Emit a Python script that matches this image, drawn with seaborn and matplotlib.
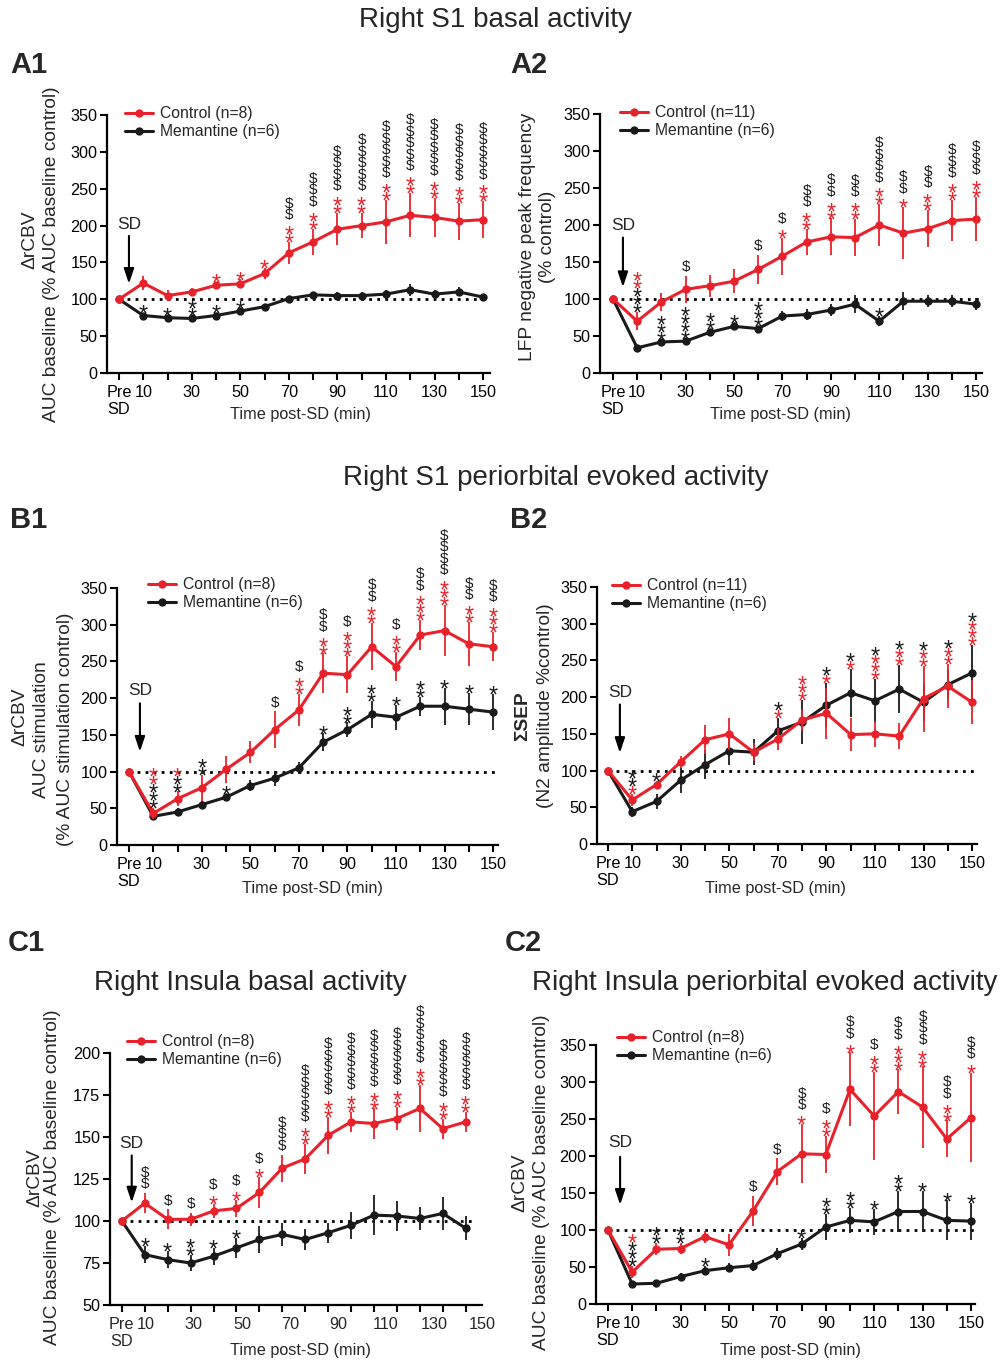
import numpy as np
import pandas as pd
import matplotlib
matplotlib.use("Agg")
import matplotlib.pyplot as plt
from matplotlib.lines import Line2D
import seaborn as sns

sns.set_style("ticks")
plt.rcParams["font.family"] = ["Liberation Sans", "DejaVu Sans"]

RED = "#e8212b"
BLACK = "#1a1a1a"
W, H = 1001, 1361

times = ["Pre", 10, 20, 30, 40, 50, 60, 70, 80, 90, 100, 110, 120, 130, 140, 150]
shown = [10, 30, 50, 70, 90, 110, 130, 150]

# A1 - right S1 basal CBV
a1_ctrl = [100, 122, 105, 110, 119, 121, 135, 163, 178, 195, 200, 205, 214, 211, 206, 208]
a1_ctrl_err = [0, 10, 8, 5, 5, 6, 7, 15, 18, 22, 17, 30, 30, 27, 25, 25]
a1_mem = [100, 78, 75, 74, 78, 84, 90, 101, 106, 105, 105, 107, 113, 107, 110, 103]
a1_mem_err = [0, 3, 3, 3, 3, 3, 3, 3, 4, 5, 5, 6, 8, 5, 6, 4]

# A2 - LFP negative peak frequency
a2_ctrl = [100, 70, 96, 113, 118, 124, 140, 158, 177, 184, 183, 200, 189, 195, 206, 208]
a2_ctrl_err = [0, 12, 12, 18, 15, 16, 20, 25, 18, 25, 25, 28, 35, 25, 28, 30]
a2_mem = [100, 34, 42, 43, 55, 63, 60, 77, 79, 85, 93, 70, 97, 97, 97, 93]
a2_mem_err = [0, 3, 3, 3, 5, 5, 4, 7, 8, 8, 12, 7, 12, 8, 8, 8]

# B1 - right S1 evoked CBV
b1_ctrl = [100, 43, 63, 78, 103, 126, 157, 184, 234, 232, 270, 243, 286, 292, 274, 270]
b1_ctrl_err = [0, 8, 10, 18, 18, 15, 25, 22, 27, 25, 32, 20, 20, 35, 30, 20]
b1_mem = [100, 39, 45, 55, 65, 81, 91, 105, 140, 157, 178, 174, 189, 189, 185, 181]
b1_mem_err = [0, 3, 5, 5, 5, 7, 10, 8, 12, 10, 18, 17, 13, 25, 22, 25]

# B2 - SEP
b2_ctrl = [100, 60, 81, 112, 142, 150, 125, 143, 169, 178, 149, 150, 147, 198, 215, 193]
b2_ctrl_err = [0, 8, 5, 8, 20, 22, 12, 15, 15, 35, 22, 18, 18, 45, 30, 30]
b2_mem = [100, 44, 58, 87, 108, 127, 125, 154, 166, 189, 206, 195, 211, 193, 217, 233]
b2_mem_err = [0, 7, 10, 17, 20, 20, 18, 18, 30, 30, 33, 30, 33, 25, 20, 38]

# C1 - insula basal CBV
c1_ctrl = [100, 110.6, 101, 101, 106, 107.5, 117, 131.5, 137, 151, 159, 158, 161, 167, 155, 159]
c1_ctrl_err = [0, 6, 6, 4, 4, 5, 9, 8, 9, 11, 6, 9, 7, 14, 6, 6]
c1_mem = [100, 80, 77, 75, 79, 84, 89, 92, 89, 93, 97.5, 103.5, 103, 101.5, 104.5, 95.7]
c1_mem_err = [0, 5, 5, 5, 5, 6, 8, 7, 6, 6, 8, 12, 9, 7, 10, 7]

# C2 - insula evoked CBV
c2_ctrl = [100, 43, 74, 75, 91, 80, 126, 179, 203, 202, 290, 254, 287, 266, 223, 252]
c2_ctrl_err = [0, 8, 8, 8, 8, 15, 20, 18, 40, 25, 50, 60, 30, 55, 25, 60]
c2_mem = [100, 27, 28, 37, 45, 49, 52, 68, 81, 104, 113, 111, 125, 125, 113, 112]
c2_mem_err = [0, 3, 4, 5, 6, 6, 8, 8, 8, 18, 17, 18, 28, 28, 27, 25]

# significance marks: (minute, sits above 'c'/'m'/'top', [(symbols, group)])
a1_marks = [
    (10, "m", [("*", "mem")]), (20, "m", [("*", "mem")]), (30, "m", [("**", "mem")]),
    (40, "m", [("*", "mem")]), (50, "m", [("*", "mem")]),
    (40, "c", [("*", "ctrl")]), (50, "c", [("*", "ctrl")]), (60, "c", [("*", "ctrl")]),
    (70, "c", [("**", "ctrl"), ("$$", "diff")]), (80, "c", [("**", "ctrl"), ("$$$", "diff")]),
    (90, "c", [("**", "ctrl"), ("$$$$", "diff")]), (100, "c", [("**", "ctrl"), ("$$$$$", "diff")]),
    (110, "c", [("**", "ctrl"), ("$$$$$", "diff")]), (120, "c", [("**", "ctrl"), ("$$$$$", "diff")]),
    (130, "c", [("**", "ctrl"), ("$$$$$", "diff")]), (140, "c", [("**", "ctrl"), ("$$$$$", "diff")]),
    (150, "c", [("**", "ctrl"), ("$$$$$", "diff")]),
]
a2_marks = [
    (10, "c", [("***", "mem"), ("**", "ctrl")]), (20, "m", [("***", "mem")]),
    (30, "m", [("****", "mem")]), (30, "c", [("$", "diff")]), (40, "m", [("**", "mem")]),
    (50, "m", [("*", "mem")]), (60, "m", [("***", "mem")]), (60, "c", [("$", "diff")]),
    (70, "c", [("*", "ctrl"), ("$", "diff")]), (80, "c", [("**", "ctrl"), ("$$", "diff")]),
    (90, "c", [("**", "ctrl"), ("$$", "diff")]), (100, "c", [("**", "ctrl"), ("$$", "diff")]),
    (110, "c", [("**", "ctrl"), ("$$$$", "diff")]), (110, "m", [("*", "mem")]),
    (120, "c", [("*", "ctrl"), ("$$", "diff")]), (130, "c", [("**", "ctrl"), ("$$", "diff")]),
    (140, "c", [("**", "ctrl"), ("$$$", "diff")]), (150, "c", [("**", "ctrl"), ("$$$", "diff")]),
]
b1_marks = [
    (10, "c", [("***", "mem"), ("**", "ctrl")]), (20, "c", [("**", "mem"), ("*", "ctrl")]),
    (30, "c", [("**", "mem")]), (40, "m", [("*", "mem")]), (60, "c", [("$", "diff")]),
    (70, "c", [("**", "ctrl"), ("$", "diff")]), (80, "c", [("**", "ctrl"), ("$$", "diff")]),
    (90, "c", [("***", "ctrl"), ("$", "diff")]), (100, "c", [("**", "ctrl"), ("$$", "diff")]),
    (110, "c", [("**", "ctrl"), ("$", "diff")]), (120, "c", [("***", "ctrl"), ("$$", "diff")]),
    (130, "c", [("***", "ctrl"), ("$$$$", "diff")]), (140, "c", [("**", "ctrl"), ("$$", "diff")]),
    (150, "c", [("***", "ctrl"), ("$$", "diff")]),
    (80, "m", [("*", "mem")]), (90, "m", [("**", "mem")]), (100, "m", [("**", "mem")]),
    (110, "m", [("*", "mem")]), (120, "m", [("**", "mem")]), (130, "m", [("*", "mem")]),
    (140, "m", [("*", "mem")]), (150, "m", [("*", "mem")]),
]
b2_marks = [
    (10, "c", [("*", "ctrl"), ("**", "mem")]), (20, "c", [("*", "mem")]),
    (70, "top", [("*", "ctrl"), ("*", "mem")]), (80, "top", [("***", "ctrl")]),
    (90, "top", [("*", "ctrl"), ("*", "mem")]), (100, "top", [("*", "ctrl"), ("*", "mem")]),
    (110, "top", [("***", "ctrl"), ("*", "mem")]), (120, "top", [("**", "ctrl"), ("*", "mem")]),
    (130, "top", [("**", "ctrl"), ("*", "mem")]), (140, "top", [("**", "ctrl"), ("*", "mem")]),
    (150, "top", [("***", "ctrl"), ("*", "mem")]),
]
c1_marks = [
    (10, "m", [("*", "mem")]), (20, "m", [("*", "mem")]), (30, "m", [("**", "mem")]),
    (40, "m", [("*", "mem")]), (50, "m", [("*", "mem")]),
    (10, "c", [("$$", "diff")]), (20, "c", [("$", "diff")]), (30, "c", [("$", "diff")]),
    (40, "c", [("*", "ctrl"), ("$", "diff")]), (50, "c", [("*", "ctrl"), ("$", "diff")]),
    (60, "c", [("*", "ctrl"), ("$", "diff")]), (70, "c", [("$$$", "diff")]),
    (80, "c", [("**", "ctrl"), ("$$$$$", "diff")]), (90, "c", [("**", "ctrl"), ("$$$$$", "diff")]),
    (100, "c", [("**", "ctrl"), ("$$$$$", "diff")]), (110, "c", [("**", "ctrl"), ("$$$$$", "diff")]),
    (120, "c", [("**", "ctrl"), ("$$$$$", "diff")]), (130, "c", [("**", "ctrl"), ("$$$$$", "diff")]),
    (140, "c", [("**", "ctrl"), ("$$$$$", "diff")]), (150, "c", [("**", "ctrl"), ("$$$$$", "diff")]),
]
c2_marks = [
    (10, "c", [("***", "mem"), ("*", "ctrl")]), (20, "c", [("**", "mem")]),
    (30, "c", [("**", "mem")]), (40, "m", [("*", "mem")]), (60, "c", [("$", "diff")]),
    (70, "c", [("$", "diff")]), (80, "c", [("*", "ctrl"), ("$$", "diff")]),
    (90, "c", [("**", "ctrl"), ("$", "diff")]), (100, "c", [("*", "ctrl"), ("$$", "diff")]),
    (110, "c", [("**", "ctrl"), ("$", "diff")]), (120, "c", [("***", "ctrl"), ("$$", "diff")]),
    (130, "c", [("**", "ctrl"), ("$$$", "diff")]), (140, "c", [("**", "ctrl"), ("$$", "diff")]),
    (150, "c", [("*", "ctrl"), ("$$", "diff")]),
    (80, "m", [("*", "mem")]), (90, "m", [("**", "mem")]), (100, "m", [("**", "mem")]),
    (110, "m", [("*", "mem")]), (120, "m", [("**", "mem")]), (130, "m", [("*", "mem")]),
    (140, "m", [("*", "mem")]), (150, "m", [("*", "mem")]),
]

group_color = {"ctrl": RED, "mem": BLACK, "diff": BLACK}
# glyph size (pt) and height of glyph centre above baseline (px)
glyph = {"*": (17, 13.7), "$": (11, 5.3)}
step_px = {("*", "*"): 8, ("$", "$"): 11.5, ("*", "$"): 15, ("$", "*"): 15}
first_px = {"*": 5, "$": 10}

fig = plt.figure(figsize=(W / 100, H / 100), dpi=100)


def ftext(x, y, s, **kw):
    fig.text(x / W, 1 - y / H, s, **kw)


def stack_marks(ax, pos, ctrl, ctrl_err, mem, mem_err, marks):
    for minute, anchor, segs in marks:
        i = times.index(minute)
        top_c = ctrl[i] + ctrl_err[i]
        top_m = mem[i] + mem_err[i]
        base = {"c": top_c, "m": top_m, "top": max(top_c, top_m)}[anchor]
        off = None
        prev = None
        for sym, grp in segs:
            for ch in sym:
                off = first_px[ch] if prev is None else off + step_px[(prev, ch)]
                size, centre = glyph[ch]
                ax.annotate(ch, xy=(pos[i], base), xytext=(0, (off - centre) * 0.72),
                            textcoords="offset points", ha="center", va="baseline",
                            fontsize=size, color=group_color[grp], zorder=6)
                prev = ch


def draw_panel(box, xmap, ylim, yticks, ctrl, ctrl_err, mem, mem_err, n_ctrl, n_mem,
               marks, sd, legend_at, label_scale=1.0):
    x0, x1, yt, yb = box
    pre_px, step = xmap
    ax = fig.add_axes([x0 / W, 1 - yb / H, (x1 - x0) / W, (yb - yt) / H])
    pos = np.arange(len(times))
    df = pd.DataFrame({"pos": pos, "ctrl": ctrl, "mem": mem})

    ax.hlines(100, pos[0], pos[-1] + 0.3, colors="k", linestyles=(0, (1, 1.9)),
              linewidth=2, zorder=1)
    for col, err, color, z in [("mem", mem_err, BLACK, 3), ("ctrl", ctrl_err, RED, 4)]:
        ax.errorbar(pos, df[col], yerr=err, fmt="none", ecolor=color, elinewidth=1.3, zorder=z)
        sns.lineplot(data=df, x="pos", y=col, color=color, marker="o", markersize=6,
                     markeredgewidth=0, linewidth=2.2, ax=ax, zorder=z)

    ax.set_xlim((x0 - pre_px) / step, (x1 - pre_px) / step)
    ax.set_ylim(*ylim)
    ax.set_yticks(yticks)
    labels = ["Pre\nSD" if t == "Pre" else (str(t) if t in shown else "") for t in times]
    if label_scale == 1.0:
        ax.set_xticks(pos, labels)
    else:
        # tick labels in this panel are spaced wider than the data grid
        ax.xaxis.remove_overlapping_locs = False
        keep = [i for i, s in enumerate(labels) if s]
        ax.set_xticks(pos, [""] * len(pos))
        ax.set_xticks([i * label_scale for i in keep], [labels[i] for i in keep], minor=True)
        ax.tick_params(axis="x", which="minor", length=0, pad=8.5, labelsize=11.7)
    ax.set_xlabel("")
    ax.set_ylabel("")
    ax.tick_params(axis="both", which="major", direction="out", length=5, width=1.5,
                   labelsize=11.7, color="k", labelcolor="k")
    ax.tick_params(axis="x", which="major", pad=3.5)
    ax.tick_params(axis="y", which="major", pad=2)
    sns.despine(ax=ax)
    for side in ["left", "bottom"]:
        ax.spines[side].set_linewidth(1.6)
        ax.spines[side].set_color("k")

    stack_marks(ax, pos, ctrl, ctrl_err, mem, mem_err, marks)

    sx, sy, tail, head = sd
    ax.text(sx, sy, "SD", ha="center", va="center", fontsize=12.5)
    ax.annotate("", xy=(sx, head), xytext=(sx, tail),
                arrowprops=dict(arrowstyle="-|>,head_length=0.6,head_width=0.2",
                                color="k", lw=1.5, shrinkA=0, shrinkB=0, mutation_scale=15))

    handles = [Line2D([], [], color=RED, marker="o", markersize=6, markeredgewidth=0, lw=2.2),
               Line2D([], [], color=BLACK, marker="o", markersize=6, markeredgewidth=0, lw=2.2)]
    lx, ly = legend_at
    ax.legend(handles, [f"Control (n={n_ctrl})", f"Memantine (n={n_mem})"],
              loc="upper left", bbox_to_anchor=(lx / W, 1 - ly / H),
              bbox_transform=fig.transFigure, frameon=False, fontsize=11.3,
              handlelength=1.8, handletextpad=0.4, labelspacing=0.22,
              borderpad=0, borderaxespad=0)
    return ax


ticks350 = np.arange(0, 351, 50)

draw_panel((107, 490, 115, 373), (119, 24.27), (0, 350), ticks350,
           a1_ctrl, a1_ctrl_err, a1_mem, a1_mem_err, 8, 6, a1_marks,
           (0.41, 202, 186, 121), (125, 106))
draw_panel((600, 982, 114, 373), (613, 24.2), (0, 350), ticks350,
           a2_ctrl, a2_ctrl_err, a2_mem, a2_mem_err, 11, 6, a2_marks,
           (0.41, 200, 183, 116), (620, 105))
draw_panel((117, 498, 588, 845), (129, 24.27), (0, 350), ticks350,
           b1_ctrl, b1_ctrl_err, b1_mem, b1_mem_err, 8, 6, b1_marks,
           (0.45, 210, 193, 127), (148, 577))
draw_panel((597, 977, 587, 844), (608, 24.27), (0, 350), ticks350,
           b2_ctrl, b2_ctrl_err, b2_mem, b2_mem_err, 11, 6, b2_marks,
           (0.49, 206, 190, 124), (612, 578))
draw_panel((110, 482, 1053, 1305), (122, 23.2), (50, 200), np.arange(50, 201, 25),
           c1_ctrl, c1_ctrl_err, c1_mem, c1_mem_err, 8, 6, c1_marks,
           (0.43, 146, 139, 111), (127, 1034), label_scale=24.3 / 23.2)
draw_panel((596, 975, 1045, 1304), (608, 24.2), (0, 350), ticks350,
           c2_ctrl, c2_ctrl_err, c2_mem, c2_mem_err, 8, 6, c2_marks,
           (0.5, 218, 199, 134), (617, 1030))

# section titles and panel letters
ftext(495, 20, "Right S1 basal activity", ha="center", va="center", fontsize=20)
ftext(556, 478, "Right S1 periorbital evoked activity", ha="center", va="center", fontsize=20)
ftext(250, 983, "Right Insula basal activity", ha="center", va="center", fontsize=20)
ftext(765, 983, "Right Insula periorbital evoked activity", ha="center", va="center", fontsize=20)
for lab, x, y in [("A1", 10, 65), ("A2", 510, 65), ("B1", 10, 520), ("B2", 510, 520),
                  ("C1", 8, 943), ("C2", 505, 943)]:
    ftext(x, y, lab, ha="left", va="center", fontsize=21, fontweight="bold")

# axis labels
ylab = dict(rotation=90, ha="center", va="center", fontsize=13.8)
ftext(30, 240, "ΔrCBV", **ylab)
ftext(52, 254, "AUC baseline (% AUC baseline control)", **ylab)
ftext(527, 237, "LFP negative peak frequency", **ylab)
ftext(548, 237, "(% control)", **ylab)
ftext(20, 717, "ΔrCBV", **ylab)
ftext(42, 730, "AUC stimulation", **ylab)
ftext(65, 729, "(% AUC stimulation control)", **ylab)
ftext(523, 716, "ΣSEP", fontweight="bold", **ylab)
ftext(545, 706, "(N2 amplitude %control)", **ylab)
ftext(35, 1178, "ΔrCBV", **ylab)
ftext(53, 1177, "AUC baseline (% AUC baseline control)", **ylab)
ftext(520, 1183, "ΔrCBV", **ylab)
ftext(542, 1182, "AUC baseline (% AUC baseline control)", **ylab)

for x, y in [(300, 415), (780, 415), (312, 888), (775, 888), (300, 1350), (790, 1350)]:
    ftext(x, y, "Time post-SD (min)", ha="center", va="center", fontsize=11.7)

fig.savefig("out.png", dpi=100)
